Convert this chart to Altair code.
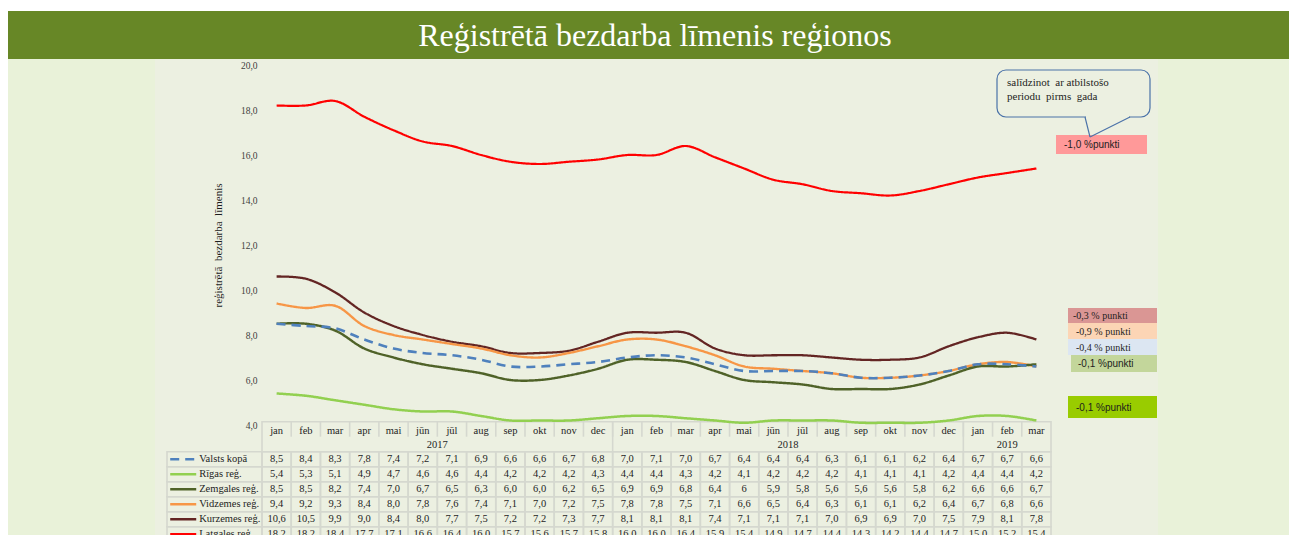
import altair as alt
import pandas as pd

# ---------------- data ----------------
months = ["jan", "feb", "mar", "apr", "mai", "jūn", "jūl", "aug", "sep", "okt", "nov", "dec"]
years = ["2017", "2018", "2019"]
months_per_year = [12, 12, 3]
series = ["Valsts kopā", "Rīgas reģ.", "Zemgales reģ.", "Vidzemes reģ.", "Kurzemes reģ.", "Latgales reģ."]

valsts = [8.5, 8.4, 8.3, 7.8, 7.4, 7.2, 7.1, 6.9, 6.6, 6.6, 6.7, 6.8,
          7.0, 7.1, 7.0, 6.7, 6.4, 6.4, 6.4, 6.3, 6.1, 6.1, 6.2, 6.4,
          6.7, 6.7, 6.6]
rigas = [5.4, 5.3, 5.1, 4.9, 4.7, 4.6, 4.6, 4.4, 4.2, 4.2, 4.2, 4.3,
         4.4, 4.4, 4.3, 4.2, 4.1, 4.2, 4.2, 4.2, 4.1, 4.1, 4.1, 4.2,
         4.4, 4.4, 4.2]
zemgales = [8.5, 8.5, 8.2, 7.4, 7.0, 6.7, 6.5, 6.3, 6.0, 6.0, 6.2, 6.5,
            6.9, 6.9, 6.8, 6.4, 6, 5.9, 5.8, 5.6, 5.6, 5.6, 5.8, 6.2,
            6.6, 6.6, 6.7]
vidzemes = [9.4, 9.2, 9.3, 8.4, 8.0, 7.8, 7.6, 7.4, 7.1, 7.0, 7.2, 7.5,
            7.8, 7.8, 7.5, 7.1, 6.6, 6.5, 6.4, 6.3, 6.1, 6.1, 6.2, 6.4,
            6.7, 6.8, 6.6]
kurzemes = [10.6, 10.5, 9.9, 9.0, 8.4, 8.0, 7.7, 7.5, 7.2, 7.2, 7.3, 7.7,
            8.1, 8.1, 8.1, 7.4, 7.1, 7.1, 7.1, 7.0, 6.9, 6.9, 7.0, 7.5,
            7.9, 8.1, 7.8]
latgales = [18.2, 18.2, 18.4, 17.7, 17.1, 16.6, 16.4, 16.0, 15.7, 15.6, 15.7, 15.8,
            16.0, 16.0, 16.4, 15.9, 15.4, 14.9, 14.7, 14.4, 14.3, 14.2, 14.4, 14.7,
            15.0, 15.2, 15.4]
values = [valsts, rigas, zemgales, vidzemes, kurzemes, latgales]

y_ticks = [4, 6, 8, 10, 12, 14, 16, 18, 20]
title_text = "Reģistrētā bezdarba līmenis reģionos"
y_title = "reģistrētā\u00a0 bezdarba\u00a0 līmenis"
callout_lines = ["salīdzinot\u00a0 ar atbilstošo", "periodu\u00a0 pirms\u00a0 gada"]
change_labels = ["-1,0 %punkti", "-0,3 % punkti", "-0,9 % punkti", "-0,4 % punkti", "-0,1 %punkti", "-0,1 %punkti"]

# ---------------- styles / layout ----------------
SERIF = "Liberation Serif"
SANS = "Liberation Sans"
PAGE_BG = "#e9f2d9"
CHART_BG = "#ecf0e1"
BAR_GREEN = "#678726"
GRID = "#d5d8cf"
TXT = "#1e1e1e"
colors = ["#4f81bd", "#92d050", "#4f6228", "#f79646", "#632523", "#ff0000"]
dashes = [[9, 6], [1, 0], [1, 0], [1, 0], [1, 0], [1, 0]]
widths = [2.6, 2.2, 2.2, 2.2, 2.2, 2.6]

W, H = 1003, 476
PAD = {"left": 147, "top": 51, "right": 131, "bottom": 0}
RIGHT_EDGE = W + PAD["right"]
COL0 = 107                 # px: left edge of first data column
NCOL = sum(months_per_year)
U = 789 / NCOL             # px per column
XS = alt.Scale(domain=[-COL0 / U, (W - COL0) / U], nice=False, zero=False)
YL = alt.Scale(domain=[4, 20], range=[366, 6], nice=False, zero=False)
YT = alt.Scale(domain=[-2, 6], range=[362.7, 482.7], nice=False, zero=False)
LEG_W = 95 / U             # legend column width in column units

# change-annotation boxes (pixel layout): x1, x2, y1, y2, fill, font, text x
box_layout = [
    (901, 992, 76, 95, "#ff9999", SANS, 909),
    (913, 1002, 249, 264, "#da9694", SERIF, 918),
    (913, 1002, 264, 280, "#fcd5b5", SERIF, 921),
    (913, 1002, 280, 296, "#dce6f2", SERIF, 921),
    (916, 1002, 296, 313, "#c3d69b", SANS, 923),
    (913, 1002, 337, 359, "#99cc00", SANS, 921),
]


def fmt(v):
    if isinstance(v, int):
        return str(v)
    return f"{v:.1f}".replace(".", ",")


# ---------------- tables ----------------
line_rows, cell_rows, text_rows = [], [], []
for r, (s, vals) in enumerate(zip(series, values)):
    for i, v in enumerate(vals):
        line_rows.append({"s": s, "order": r, "x": i + 0.5, "v": float(v)})
        cell_rows.append({"x": i, "x2": i + 1, "r": r, "r2": r + 1})
        text_rows.append({"x": i + 0.5, "r": r + 0.5, "t": fmt(v)})
    cell_rows.append({"x": -LEG_W, "x2": 0, "r": r, "r2": r + 1})
cell_rows.append({"x": 0, "x2": NCOL, "r": -2, "r2": 0})

df_lines = pd.DataFrame(line_rows)
df_cells = pd.DataFrame(cell_rows)
df_text = pd.DataFrame(text_rows)

month_labels = []
for k, n in enumerate(months_per_year):
    month_labels += months[:n]
df_months = pd.DataFrame({"x": [i + 0.5 for i in range(NCOL)], "r": -1.5, "t": month_labels})

starts = [sum(months_per_year[:k]) for k in range(len(years))]
df_years = pd.DataFrame({"x": [st + n / 2 for st, n in zip(starts, months_per_year)], "r": -0.5, "t": years})

df_msep = pd.DataFrame({"x": list(range(1, NCOL)), "r": -2, "r2": -1})
df_ysep = pd.DataFrame({"x": starts[1:], "r": -2, "r2": 0})

df_leg = pd.DataFrame({
    "s": series,
    "r": [r + 0.5 for r in range(len(series))],
    "xa": -LEG_W + 0.11,
    "xb": -LEG_W + 1.0,
    "xt": -LEG_W + 1.1,
})

one = pd.DataFrame({"a": [0]})

X = lambda f: alt.X(f, type="quantitative", scale=XS, axis=None)
YTab = lambda f: alt.Y(f, type="quantitative", scale=YT, axis=None)
color_enc = alt.Color("s:N", scale=alt.Scale(domain=series, range=colors), legend=None)
dash_enc = alt.StrokeDash("s:N", scale=alt.Scale(domain=series, range=dashes), legend=None)
width_enc = alt.StrokeWidth("s:N", scale=alt.Scale(domain=series, range=widths), legend=None)

layers = []

# title bar
layers.append(alt.Chart(one).mark_rect(color="white").encode(
    x=alt.value(-PAD["left"]), x2=alt.value(RIGHT_EDGE), y=alt.value(-51), y2=alt.value(-48)))
layers.append(alt.Chart(one).mark_rect(color=BAR_GREEN).encode(
    x=alt.value(-PAD["left"]), x2=alt.value(RIGHT_EDGE), y=alt.value(-48), y2=alt.value(0)))
layers.append(alt.Chart(one).mark_text(
    text=title_text, font=SERIF, fontSize=32, color="white", align="center", baseline="middle"
).encode(x=alt.value(500), y=alt.value(-23)))

# table grid
layers.append(alt.Chart(df_cells).mark_rect(fillOpacity=0, stroke=GRID, strokeWidth=1.6).encode(
    x=X("x"), x2="x2", y=YTab("r"), y2="r2"))
layers.append(alt.Chart(df_msep).mark_rule(color=GRID, strokeWidth=1.6).encode(
    x=X("x"), y=YTab("r"), y2="r2"))
layers.append(alt.Chart(df_ysep).mark_rule(color=GRID, strokeWidth=1.6).encode(
    x=X("x"), y=YTab("r"), y2="r2"))

# table texts
layers.append(alt.Chart(df_months).mark_text(font=SERIF, fontSize=10.5, color=TXT, dy=1.5).encode(
    x=X("x"), y=YTab("r"), text="t:N"))
layers.append(alt.Chart(df_years).mark_text(font=SERIF, fontSize=10.5, color=TXT, dy=0.5).encode(
    x=X("x"), y=YTab("r"), text="t:N"))
layers.append(alt.Chart(df_text).mark_text(font=SERIF, fontSize=10.5, color=TXT).encode(
    x=X("x"), y=YTab("r"), text="t:N"))
layers.append(alt.Chart(df_leg).mark_text(font=SERIF, fontSize=10.5, color=TXT, align="left").encode(
    x=X("xt"), y=YTab("r"), text="s:N"))
layers.append(alt.Chart(df_leg).mark_rule(strokeWidth=2.4).encode(
    x=X("xa"), x2="xb", y=YTab("r"), color=color_enc, strokeDash=dash_enc))

# lines
line_order = [5, 4, 3, 2, 1, 0]
for r in line_order:
    d = df_lines[df_lines["order"] == r]
    y_enc = alt.Y("v:Q", scale=YL, axis=alt.Axis(
        values=y_ticks, grid=False, domain=False, ticks=False, tickSize=0,
        labelExpr="replace(format(datum.value, '.1f'), '.', ',')",
        labelFont=SERIF, labelFontSize=9.5, labelColor="#404040", labelPadding=5,
        offset=-COL0, title=y_title, titleFont=SERIF, titleFontSize=11,
        titleFontWeight="normal", titleColor=TXT, titleAngle=270,
        titleX=-44, titleY=186, titleAlign="center", titleBaseline="middle",
    ) if r == 0 else None)
    layers.append(alt.Chart(d).mark_line(interpolate="catmull-rom").encode(
        x=X("x"), y=y_enc, color=color_enc, strokeDash=dash_enc, strokeWidth=width_enc))

# change boxes
for (x1, x2, y1, y2, fill, font, tx), lab in zip(box_layout, change_labels):
    layers.append(alt.Chart(one).mark_rect(color=fill).encode(
        x=alt.value(x1), x2=alt.value(x2), y=alt.value(y1), y2=alt.value(y2)))
    layers.append(alt.Chart(one).mark_text(
        text=lab, font=font, fontSize=10, color=TXT, align="left", baseline="middle"
    ).encode(x=alt.value(tx), y=alt.value((y1 + y2) / 2 + 0.5)))

# callout
layers.append(alt.Chart(one).mark_rect(cornerRadius=9, fill=CHART_BG, stroke="#4a72a8", strokeWidth=1.2).encode(
    x=alt.value(842), x2=alt.value(995), y=alt.value(11), y2=alt.value(58)))
layers.append(alt.Chart(one).mark_rect(color=CHART_BG).encode(
    x=alt.value(931), x2=alt.value(974), y=alt.value(56), y2=alt.value(60)))
layers.append(alt.Chart(one).mark_rule(color="#4a72a8", strokeWidth=1.2).encode(
    x=alt.value(930), y=alt.value(58), x2=alt.value(935), y2=alt.value(78)))
layers.append(alt.Chart(one).mark_rule(color="#4a72a8", strokeWidth=1.2).encode(
    x=alt.value(935), y=alt.value(78), x2=alt.value(975), y2=alt.value(58)))
for k, line in enumerate(callout_lines):
    layers.append(alt.Chart(one).mark_text(
        text=line, font=SERIF, fontSize=11, color=TXT, align="left", baseline="middle"
    ).encode(x=alt.value(852), y=alt.value(24 + k * 14)))

chart = alt.layer(*layers).resolve_scale(y="independent").properties(
    width=W, height=H,
    autosize=alt.AutoSizeParams(type="none"),
    padding=PAD,
    background=PAGE_BG,
).configure_view(fill=CHART_BG, stroke=None)

chart.save("out.html", embed_options={"renderer": "svg", "actions": False})
